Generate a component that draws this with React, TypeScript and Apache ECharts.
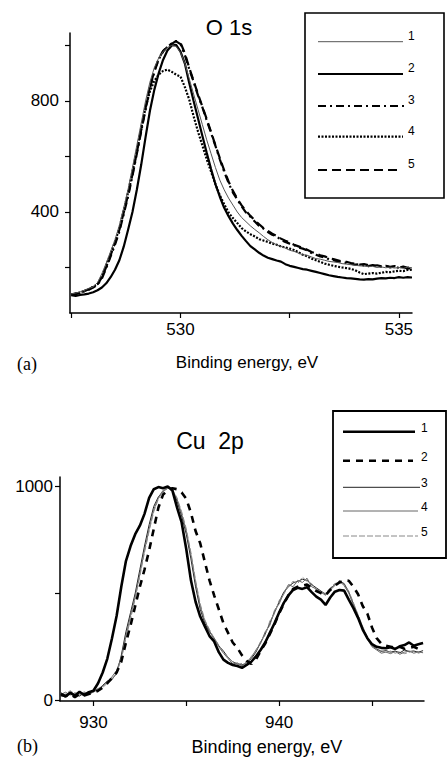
import React, { useEffect, useRef } from "react";
import * as echarts from "echarts";

// ---------- O 1s (panel a) ----------
const oEnergy = [
  527.5, 527.6, 527.7, 527.8, 527.9,
  528.0, 528.1, 528.2, 528.3, 528.4, 528.5, 528.6, 528.7, 528.8, 528.9,
  529.0, 529.1, 529.2, 529.3, 529.4, 529.5, 529.6, 529.7, 529.8, 529.9,
  530.0, 530.1, 530.2, 530.3, 530.4, 530.5, 530.6, 530.7, 530.8, 530.9,
  531.0, 531.1, 531.2, 531.3, 531.4, 531.5, 531.6, 531.7, 531.8, 531.9,
  532.0, 532.1, 532.2, 532.3, 532.4, 532.5, 532.6, 532.7, 532.8, 532.9,
  533.0, 533.1, 533.2, 533.3, 533.4, 533.5, 533.6, 533.7, 533.8, 533.9,
  534.0, 534.1, 534.2, 534.3, 534.4, 534.5, 534.6, 534.7, 534.8, 534.9,
  535.0, 535.1, 535.2, 535.3,
];
const o1 = [
  105, 108, 112, 118, 125,
  130, 146, 178, 216, 258, 300, 352, 415, 482, 560,
  640, 720, 800, 868, 920, 955, 978, 993, 1000, 997,
  975, 935, 880, 825, 770, 715, 660, 610, 560, 515,
  480, 450, 425, 400, 380, 365, 350, 337, 325, 312,
  300, 290, 282, 276, 270, 262, 258, 252, 246, 244,
  238, 232, 230, 226, 222, 220, 218, 214, 212, 210,
  208, 206, 205, 203, 204, 200, 202, 199, 201, 198,
  200, 197, 201, 199,
];
const o2 = [
  100, 98, 101, 103, 106,
  111, 118, 128, 143, 165, 192, 226, 275, 336, 400,
  480, 570, 670, 765, 840, 900, 948, 982, 1000, 1002,
  978, 935, 865, 800, 738, 675, 613, 555, 500, 455,
  415, 385, 358, 335, 314, 295, 277, 265, 253, 243,
  235, 230, 225, 221, 212, 206, 202, 198, 194, 192,
  188, 184, 180, 176, 172, 169, 166, 164, 162, 161,
  159, 157, 156, 158, 157, 160, 162, 161, 163, 162,
  165, 163, 165, 164,
];
const o3 = [
  100, 104, 110, 114, 120,
  128, 138, 160, 198, 240, 282, 330, 392, 456, 530,
  610, 690, 770, 845, 905, 950, 978, 995, 1008, 1015,
  1005, 965, 915, 870, 820, 778, 730, 685, 638, 590,
  545, 505, 470, 445, 420, 398, 383, 366, 350, 340,
  328, 318, 312, 300, 292, 286, 281, 272, 268, 262,
  252, 246, 240, 236, 230, 226, 222, 220, 216, 214,
  210, 212, 207, 205, 209, 203, 204, 206, 200, 204,
  198, 202, 196, 198,
];
const o4 = [
  102, 106, 110, 116, 122,
  130, 140, 168, 208, 250, 292, 342, 405, 470, 545,
  620, 700, 775, 835, 872, 895, 908, 913, 905, 895,
  888, 850, 805, 745, 690, 640, 590, 545, 500, 460,
  428, 398, 378, 360, 342, 330, 320, 312, 302, 297,
  292, 286, 282, 276, 272, 268, 263, 255, 246, 240,
  232, 226, 220, 214, 210, 206, 203, 200, 198, 195,
  190, 182, 176, 178, 180, 178, 181, 184, 183, 186,
  188, 187, 191, 192,
];
const o5 = [
  103, 106, 109, 116, 121,
  130, 140, 164, 202, 245, 288, 336, 398, 462, 536,
  615, 695, 775, 850, 908, 952, 980, 996, 1006, 1016,
  1010, 972, 920, 872, 825, 780, 735, 688, 640, 594,
  550, 510, 476, 448, 424, 404, 386, 370, 356, 342,
  332, 322, 314, 304, 296, 290, 282, 276, 270, 264,
  256, 250, 244, 240, 234, 230, 226, 222, 220, 216,
  214, 210, 212, 208, 206, 208, 204, 206, 202, 205,
  200, 203, 199, 201,
];
const oXTicks = [527.5, 530, 532.5, 535];
const oXLabels = [530, 535];
const oYTicks = [200, 400, 600, 800, 1000];
const oYLabels = [400, 800];

// ---------- Cu 2p (panel b) ----------
const cuEnergy = [
  928.25, 928.5, 928.75,
  929, 929.25, 929.5, 929.75, 930, 930.25, 930.5, 930.75,
  931, 931.25, 931.5, 931.75, 932, 932.25, 932.5, 932.75,
  933, 933.25, 933.5, 933.75, 934, 934.25, 934.5, 934.75,
  935, 935.25, 935.5, 935.75, 936, 936.25, 936.5, 936.75,
  937, 937.25, 937.5, 937.75, 938, 938.25, 938.5, 938.75,
  939, 939.25, 939.5, 939.75, 940, 940.25, 940.5, 940.75,
  941, 941.25, 941.5, 941.75, 942, 942.25, 942.5, 942.75,
  943, 943.25, 943.5, 943.75, 944, 944.25, 944.5, 944.75,
  945, 945.25, 945.5, 945.75, 946, 946.25, 946.5, 946.75,
  947, 947.25, 947.5, 947.75,
];
const cu1 = [
  30, 18, 35,
  22, 40, 25, 38, 45, 80, 130, 195,
  290, 395, 530, 650, 720, 775, 815, 870,
  945, 985, 995, 990, 998, 980, 900, 830,
  705, 560, 460, 391, 345, 300, 275, 225,
  190, 175, 165, 160, 152, 165, 180, 205,
  235, 270, 315, 360, 410, 455, 490, 515,
  525, 520, 528, 505, 484, 470, 445, 480,
  507, 515, 512, 470, 430, 385, 330, 290,
  262, 250, 245, 243, 248, 240, 252, 258,
  270, 255, 262, 268,
];
const cu2 = [
  25, 20, 30,
  15, 30, 22, 30, 35, 45, 60, 80,
  105, 130, 180, 270, 350, 440, 530, 610,
  700, 800, 900, 960, 980, 990, 985, 970,
  940, 875, 790, 733, 645, 560, 490, 425,
  360, 315, 270, 245, 210, 185, 170, 190,
  230, 265, 310, 355, 405, 450, 490, 520,
  530, 535, 540, 525, 510, 500, 490, 515,
  535, 550, 560, 558, 530, 495, 440, 405,
  340, 290, 265, 255, 250, 245, 250, 240,
  245, 250, 240, 248,
];
const cu3 = [
  35, 25, 40,
  28, 20, 35, 28, 40, 50, 70, 90,
  100, 125, 210, 320, 410, 500, 610, 720,
  820, 905, 950, 975, 990, 985, 930, 860,
  775, 660, 530, 425, 360, 320, 290, 255,
  230, 200, 180, 170, 165, 175, 195, 225,
  270, 310, 360, 410, 460, 505, 530, 548,
  555, 565, 560, 540, 525, 510, 495, 520,
  540, 555, 545, 505, 450, 395, 340, 290,
  255, 240, 228, 232, 225, 230, 222, 235,
  228, 230, 225, 232,
];
const cu4 = [
  28, 38, 25,
  35, 30, 22, 35, 42, 55, 65, 85,
  110, 140, 200, 300, 395, 485, 590, 700,
  800, 890, 945, 980, 995, 975, 940, 870,
  790, 680, 550, 440, 370, 325, 285, 250,
  220, 195, 170, 175, 160, 180, 200, 235,
  265, 320, 350, 420, 450, 500, 540, 530,
  560, 550, 570, 530, 520, 505, 490, 515,
  535, 560, 535, 500, 445, 390, 330, 285,
  250, 235, 220, 225, 218, 228, 215, 225,
  230, 220, 226, 222,
];
const cu5 = [
  20, 30, 45,
  30, 25, 40, 30, 38, 48, 60, 80,
  95, 130, 190, 290, 380, 475, 580, 690,
  790, 880, 940, 975, 990, 985, 945, 880,
  800, 690, 560, 450, 375, 330, 290, 258,
  225, 200, 180, 168, 172, 170, 205, 230,
  275, 305, 370, 405, 465, 495, 535, 555,
  545, 575, 555, 545, 515, 500, 500, 525,
  545, 550, 540, 510, 455, 400, 345, 295,
  260, 238, 232, 222, 230, 220, 228, 218,
  224, 232, 220, 228,
];
const cuXTicks = [930, 935, 940, 945];
const cuXLabels = [930, 940];
const cuYTicks = [0, 500, 1000];
const cuYLabels = [0, 1000];

const legendLabels = ["1", "2", "3", "4", "5"];

const SANS = '"Liberation Sans", Arial, sans-serif';
const SERIF = '"Liberation Serif", "Times New Roman", serif';

const pairs = (xs: number[], ys: number[]) => xs.map((x, i) => [x, ys[i]]);

// line styles
const oStyles = [
  { color: "#555", width: 1, type: "solid" as any },
  { color: "#000", width: 2.2, type: "solid" as any },
  { color: "#000", width: 2.2, type: [8, 4, 2, 4] as any },
  { color: "#000", width: 2.2, type: [2, 1.5] as any },
  { color: "#000", width: 2.2, type: [9, 5] as any },
];
const cuStyles = [
  { color: "#000", width: 2.6, type: "solid" as any },
  { color: "#000", width: 2.6, type: [7, 6] as any },
  { color: "#222", width: 1, type: "solid" as any },
  { color: "#666", width: 1, type: "solid" as any },
  { color: "#888", width: 1, type: [6, 2] as any },
];

function axisCommon(tickValues: number[], labelValues: number[], margin: number, fontSize: number) {
  return {
    axisLine: { show: true, onZero: false, lineStyle: { color: "#000", width: 1.5 } },
    axisTick: {
      show: true,
      customValues: tickValues,
      length: 5,
      inside: false,
      lineStyle: { color: "#000", width: 1.2 },
    },
    axisLabel: {
      show: true,
      customValues: labelValues,
      formatter: (v: number) => String(v),
      color: "#000",
      fontSize,
      fontFamily: SANS,
      margin,
    },
    splitLine: { show: false },
    minorTick: { show: false },
  };
}

export default function App() {
  const ref = useRef<HTMLDivElement>(null);

  useEffect(() => {
    if (!ref.current) return;
    const chart = echarts.init(ref.current, null, { renderer: "svg" });

    const oSeries = [o1, o2, o3, o4, o5].map((ys, i) => ({
      name: "O1s-" + legendLabels[i],
      type: "line",
      xAxisIndex: 0,
      yAxisIndex: 0,
      data: pairs(oEnergy, ys),
      showSymbol: false,
      smooth: false,
      lineStyle: oStyles[i],
      z: i === 0 ? 3 : 2,
    }));
    const cuOrder = [2, 3, 4, 1, 0];
    const cuData = [cu1, cu2, cu3, cu4, cu5];
    const cuSeries = cuOrder.map((i) => ({
      name: "Cu2p-" + legendLabels[i],
      type: "line",
      xAxisIndex: 1,
      yAxisIndex: 1,
      data: pairs(cuEnergy, cuData[i]),
      showSymbol: false,
      lineStyle: cuStyles[i],
    }));

    // legend drawings
    const oLegendY = [41.7, 74, 106, 136.7, 170];
    const oLegendEnd = [403, 403, 404, 403, 398];
    const cuLegendY = [431.7, 460.7, 487.3, 511, 536];
    const cuLegendEnd = [415, 413, 420, 418, 418];

    const graphics: any[] = [
      // titles
      {
        type: "text", x: 229, y: 27,
        style: { text: "O 1s", fill: "#000", fontSize: 22, fontFamily: SANS, align: "center", verticalAlign: "middle" },
      },
      {
        type: "text", x: 210, y: 441,
        style: { text: "Cu  2p", fill: "#000", fontSize: 23, fontFamily: SANS, align: "center", verticalAlign: "middle" },
      },
      // axis names
      {
        type: "text", x: 247, y: 362,
        style: { text: "Binding energy, eV", fill: "#000", fontSize: 17, fontFamily: SANS, align: "center", verticalAlign: "middle" },
      },
      {
        type: "text", x: 267, y: 747,
        style: { text: "Binding energy, eV", fill: "#000", fontSize: 18, fontFamily: SANS, align: "center", verticalAlign: "middle" },
      },
      // panel letters
      {
        type: "text", x: 17, y: 364,
        style: { text: "(a)", fill: "#000", fontSize: 18, fontFamily: SERIF, align: "left", verticalAlign: "middle" },
      },
      {
        type: "text", x: 17, y: 746,
        style: { text: "(b)", fill: "#000", fontSize: 18, fontFamily: SERIF, align: "left", verticalAlign: "middle" },
      },
      // legend boxes
      {
        type: "rect",
        shape: { x: 305, y: 13, width: 139, height: 185 },
        style: { fill: "#fff", stroke: "#000", lineWidth: 1.6 },
        z: 10,
      },
      {
        type: "rect",
        shape: { x: 333, y: 411, width: 113, height: 147 },
        style: { fill: "#fff", stroke: "#000", lineWidth: 1.8 },
        z: 10,
      },
    ];
    legendLabels.forEach((lab, i) => {
      graphics.push({
        type: "line",
        shape: { x1: 318, y1: oLegendY[i], x2: oLegendEnd[i], y2: oLegendY[i] },
        style: {
          stroke: oStyles[i].color,
          lineWidth: oStyles[i].width,
          lineDash: Array.isArray(oStyles[i].type) ? oStyles[i].type : null,
        },
        z: 11,
      });
      graphics.push({
        type: "text", x: 408, y: oLegendY[i] - 6,
        style: { text: lab, fill: "#000", fontSize: 12, fontFamily: SANS, align: "left", verticalAlign: "middle" },
        z: 11,
      });
      graphics.push({
        type: "line",
        shape: { x1: 343, y1: cuLegendY[i], x2: cuLegendEnd[i], y2: cuLegendY[i] },
        style: {
          stroke: cuStyles[i].color,
          lineWidth: cuStyles[i].width,
          lineDash: Array.isArray(cuStyles[i].type) ? cuStyles[i].type : null,
        },
        z: 11,
      });
      graphics.push({
        type: "text", x: 421, y: cuLegendY[i] - 4,
        style: { text: lab, fill: "#000", fontSize: 12, fontFamily: SANS, align: "left", verticalAlign: "middle" },
        z: 11,
      });
    });

    const option: any = {
      animation: false,
      backgroundColor: "#fff",
      grid: [
        { left: 70, top: 33, width: 342, height: 280, containLabel: false },
        { left: 60, top: 477, width: 364, height: 224, containLabel: false },
      ],
      xAxis: [
        { gridIndex: 0, type: "value", min: 527.47, max: 535.3, ...axisCommon(oXTicks, oXLabels, 8, 17) },
        { gridIndex: 1, type: "value", min: 928.2, max: 947.8, ...axisCommon(cuXTicks, cuXLabels, 13, 17) },
      ],
      yAxis: [
        { gridIndex: 0, type: "value", min: 36, max: 1045, ...axisCommon(oYTicks, oYLabels, 11, 17) },
        { gridIndex: 1, type: "value", min: -3, max: 1042, ...axisCommon(cuYTicks, cuYLabels, 7, 17) },
      ],
      series: [...oSeries, ...cuSeries],
      graphic: graphics,
    };
    chart.setOption(option);
    return () => chart.dispose();
  }, []);

  return (
    <div
      ref={ref}
      style={{ position: "absolute", left: 0, top: 0, width: 447, height: 759, background: "#fff" }}
    />
  );
}
